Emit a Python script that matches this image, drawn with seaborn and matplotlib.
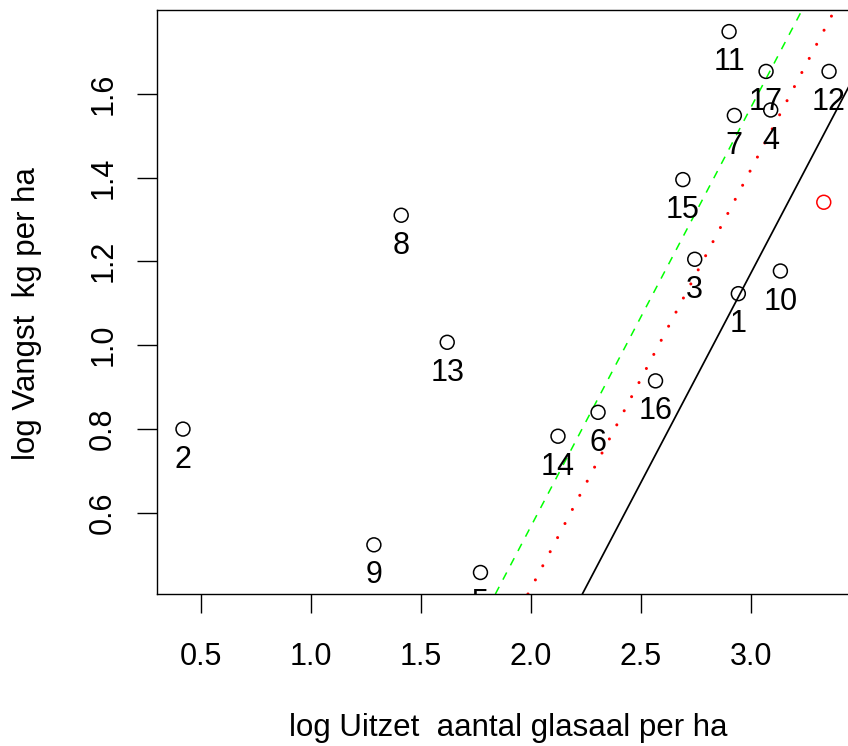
import matplotlib
matplotlib.use("Agg")
import pandas as pd
import matplotlib.pyplot as plt
import seaborn as sns

# values
station = [1, 2, 3, 4, 5, 6, 7, 8, 9, 10, 11, 12, 13, 14, 15, 16, 17]
log_uitzet = [2.942, 0.420, 2.744, 3.089, 1.771, 2.305, 2.924, 1.411, 1.287,
              3.133, 2.900, 3.354, 1.620, 2.123, 2.690, 2.566, 3.068]
log_vangst = [1.123, 0.800, 1.205, 1.561, 0.458, 0.840, 1.548, 1.310, 0.524,
              1.177, 1.748, 1.653, 1.007, 0.783, 1.395, 0.915, 1.653]

extra_x = [3.330]
extra_y = [1.341]

# lines with slope 1: intercepts
line_intercepts = [-1.827, -1.432, -1.580]
line_colors = ["black", "#00ff00", "#ff0000"]
line_styles = ["-", (0, (5.3, 5.3)), (0, (0.01, 5.2))]
line_widths = [1.25, 1.1, 2.2]

x_ticks = [0.5, 1.0, 1.5, 2.0, 2.5, 3.0]
y_ticks = [0.6, 0.8, 1.0, 1.2, 1.4, 1.6]

sns.set_style("ticks", {"axes.edgecolor": "black", "text.color": "black",
                        "axes.labelcolor": "black", "xtick.color": "black",
                        "ytick.color": "black"})
plt.rcParams["font.family"] = ["Liberation Sans", "DejaVu Sans"]
plt.rcParams["font.size"] = 22
fs = 22

df = pd.DataFrame({"station": station, "x": log_uitzet, "y": log_vangst})

fig = plt.figure(figsize=(8.48, 7.46), dpi=100)
ax = fig.add_axes([157 / 848, (746 - 594) / 746, (859 - 157) / 848, 584 / 746])

for a, c, ls, lw in zip(line_intercepts, line_colors, line_styles, line_widths):
    ax.axline((0, a), slope=1, color=c, linestyle=ls, linewidth=lw,
              dash_capstyle="round" if c == "#ff0000" else "butt")

sns.scatterplot(data=df, x="x", y="y", ax=ax, marker="o", s=100,
                facecolor="none", edgecolor="black", linewidth=1.1, zorder=3)
sns.scatterplot(x=extra_x, y=extra_y, ax=ax, marker="o", s=100,
                facecolor="none", edgecolor="#ff0000", linewidth=1.1, zorder=3)

for lab, xv, yv in zip(station, log_uitzet, log_vangst):
    t = ax.annotate(str(lab), (xv, yv), xytext=(0, -38.5), textcoords="offset pixels",
                    ha="center", va="baseline", fontsize=fs, color="black")
    t.set_clip_on(True)
    t.set_clip_box(ax.bbox)

ax.set_xlim(0.302, 3.49)
ax.set_ylim(0.4067, 1.7995)
ax.set_xticks(x_ticks)
ax.set_xticklabels([f"{v:.1f}" for v in x_ticks])
ax.set_yticks(y_ticks)
ax.set_yticklabels([f"{v:.1f}" for v in y_ticks], rotation=90, va="center")

ax.tick_params(axis="x", length=13.7, width=1.0, pad=21, labelsize=fs, colors="black")
ax.tick_params(axis="y", length=14.4, width=1.0, pad=13.5, labelsize=fs, colors="black")
for s in ax.spines.values():
    s.set_linewidth(1.0)
    s.set_color("black")

ax.set_xlabel("log Uitzet  aantal glasaal per ha", fontsize=fs + 0.5, color="black")
ax.set_ylabel("log Vangst  kg per ha", fontsize=fs + 0.5, color="black")
ax.xaxis.set_label_coords(0.5, (594 - 713) / 584)
ax.yaxis.set_label_coords((42 - 157) / 702, 0.48)

fig.savefig("out.png", dpi=100)
